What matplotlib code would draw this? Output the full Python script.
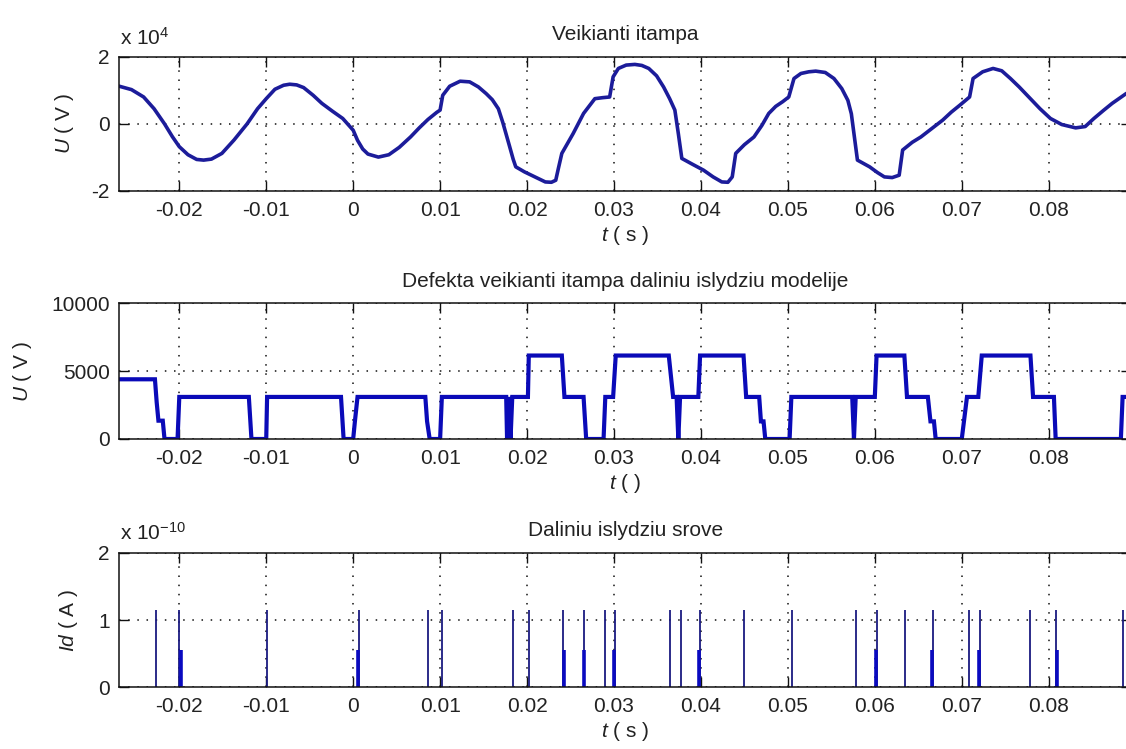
import numpy as np
import matplotlib
matplotlib.use("Agg")
import matplotlib.pyplot as plt

# ---------------- data ----------------
# Top: applied voltage (units of 1e4 V)
top_t = [-0.0269, -0.0255, -0.0241, -0.0229, -0.0217, -0.0208, -0.0200, -0.0190, -0.0180,
         -0.0172, -0.0163, -0.0151, -0.0137, -0.0122, -0.0110, -0.0100, -0.0090, -0.0080,
         -0.0073, -0.0065, -0.0057, -0.0046, -0.0036, -0.0024, -0.0012, 0.0000, 0.0005,
         0.0011, 0.0017, 0.0029, 0.0041, 0.0053, 0.0066, 0.0076, 0.0086, 0.0096, 0.0100,
         0.0103, 0.0111, 0.0123, 0.0134, 0.0144, 0.0153, 0.0160, 0.0167, 0.0172, 0.0177,
         0.0180, 0.0184, 0.0187, 0.0197, 0.0209, 0.0221, 0.0228, 0.0233, 0.0236, 0.0240,
         0.0253, 0.0265, 0.0278, 0.0287, 0.0295, 0.0299, 0.0305, 0.0314, 0.0324, 0.0332,
         0.0340, 0.0349, 0.0357, 0.0364, 0.0370, 0.0374, 0.0378, 0.0390, 0.0403, 0.0414,
         0.0424, 0.0431, 0.0436, 0.0440, 0.0450, 0.0461, 0.0470, 0.0478, 0.0486, 0.0494,
         0.0501, 0.0507, 0.0515, 0.0524, 0.0532, 0.0543, 0.0553, 0.0562, 0.0569, 0.0573,
         0.0576, 0.0580, 0.0594, 0.0603, 0.0611, 0.0620, 0.0628, 0.0632, 0.0643, 0.0653,
         0.0665, 0.0678, 0.0688, 0.0698, 0.0709, 0.0713, 0.0724, 0.0736, 0.0746, 0.0756,
         0.0766, 0.0777, 0.0790, 0.0802, 0.0815, 0.0831, 0.0842, 0.0852, 0.0863, 0.0873,
         0.0889, 0.0895]
top_u = [1.12, 1.02, 0.80, 0.45, 0.00, -0.38, -0.68, -0.92, -1.06,
         -1.08, -1.05, -0.88, -0.48, 0.00, 0.45, 0.75, 1.03, 1.15,
         1.18, 1.16, 1.08, 0.85, 0.61, 0.38, 0.16, -0.19, -0.49,
         -0.75, -0.90, -0.99, -0.92, -0.70, -0.39, -0.12, 0.13, 0.34, 0.41,
         0.85, 1.12, 1.27, 1.25, 1.10, 0.90, 0.72, 0.45, 0.05, -0.40,
         -0.68, -1.05, -1.28, -1.43, -1.58, -1.73, -1.74, -1.68, -1.33, -0.88,
         -0.29, 0.31, 0.75, 0.78, 0.80, 1.40, 1.65, 1.75, 1.77, 1.74,
         1.65, 1.43, 1.10, 0.75, 0.41, -0.29, -1.03, -1.20, -1.38, -1.58,
         -1.73, -1.74, -1.58, -0.88, -0.62, -0.39, -0.05, 0.31, 0.52, 0.66,
         0.80, 1.35, 1.50, 1.55, 1.57, 1.53, 1.35, 1.05, 0.70, 0.30,
         -0.29, -1.08, -1.28, -1.45, -1.58, -1.60, -1.53, -0.78, -0.55, -0.39,
         -0.15, 0.11, 0.35, 0.56, 0.80, 1.35, 1.55, 1.65, 1.58, 1.35,
         1.10, 0.80, 0.45, 0.16, -0.02, -0.12, -0.08, 0.16, 0.40, 0.61,
         0.90, 0.98]

# Middle: defect voltage in PD model (V), step-wise
mid_t = [-0.0269, -0.0228, -0.0226, -0.0224, -0.0219, -0.0217, -0.0202, -0.0200,
         -0.0120, -0.0117, -0.0100, -0.0099, -0.0014, -0.0011, 0.0000, 0.0002,
         0.0005, 0.0083, 0.0085, 0.0088, 0.0100, 0.0102, 0.0176, 0.0177, 0.0179,
         0.0181, 0.0183, 0.0201, 0.0202, 0.0240, 0.0243, 0.0265, 0.0268, 0.0288,
         0.0290, 0.0299, 0.0302, 0.0363, 0.0368, 0.0372, 0.0374, 0.0376, 0.0397,
         0.0399, 0.0449, 0.0452, 0.0467, 0.0469, 0.0472, 0.0474, 0.0502, 0.0504,
         0.0574, 0.0576, 0.0578, 0.0600, 0.0602, 0.0634, 0.0637, 0.0661, 0.0664,
         0.0668, 0.0670, 0.0700, 0.0706, 0.0719, 0.0723, 0.0779, 0.0782, 0.0806,
         0.0808, 0.0883, 0.0885, 0.0895]
mid_u = [4400, 4400, 2700, 1350, 1350, 0, 0, 3100,
         3100, 0, 0, 3100, 3100, 0, 0, 1300,
         3100, 3100, 1300, 0, 0, 3100, 3100, 0, 3100,
         0, 3100, 3100, 6150, 6150, 3100, 3100, 0, 0,
         3100, 3100, 6150, 6150, 3100, 3100, 0, 3100, 3100,
         6150, 6150, 3100, 3100, 1300, 1300, 0, 0, 3100,
         3100, 0, 3100, 3100, 6150, 6150, 3100, 3100, 1300,
         1300, 0, 0, 3100, 3100, 6150, 6150, 3100, 3100,
         0, 0, 3100, 3100]

# Bottom: PD currents (units of 1e-10 A)
tall_t = [-0.0227, -0.0200, -0.0099, 0.0007, 0.0086, 0.0102, 0.0184, 0.0202,
          0.0241, 0.0265, 0.0290, 0.0301, 0.0364, 0.0377, 0.0399, 0.0449,
          0.0505, 0.0578, 0.0602, 0.0635, 0.0667, 0.0708, 0.0721, 0.0779,
          0.0808, 0.0885]
tall_h = [1.15] * len(tall_t)
short_t = [-0.0198, 0.0005, 0.0242, 0.0266, 0.0300, 0.0398, 0.0601, 0.0666,
           0.0720, 0.0809]
short_h = [0.55] * len(short_t)

xticks = [-0.02, -0.01, 0.0, 0.01, 0.02, 0.03, 0.04, 0.05, 0.06, 0.07, 0.08]
xticklabels = ['-0.02', '-0.01', '0', '0.01', '0.02', '0.03', '0.04', '0.05',
               '0.06', '0.07', '0.08']
top_yticks = [-2, 0, 2]
top_yticklabels = ['-2', '0', '2']
mid_yticks = [0, 5000, 10000]
mid_yticklabels = ['0', '5000', '10000']
bot_yticks = [0, 1, 2]
bot_yticklabels = ['0', '1', '2']

titles = ['Veikianti itampa',
          'Defekta veikianti itampa daliniu islydziu modelije',
          'Daliniu islydziu srove']

# ---------------- style ----------------
plt.rcParams['font.family'] = ['Liberation Sans', 'DejaVu Sans']
plt.rcParams['mathtext.fontset'] = 'custom'
plt.rcParams['mathtext.rm'] = 'Liberation Sans'
plt.rcParams['mathtext.it'] = 'Liberation Sans:italic'
plt.rcParams['mathtext.default'] = 'it'
FS = 15
TXT = '#222222'

W, H = 1126, 749
fig = plt.figure(figsize=(W / 100, H / 100), dpi=100)
fig.patch.set_facecolor('white')

left_px, right_px = 119.3, 1131.3
XLIM = (-0.0269, 0.0895)
boxes = [(56.7, 191.0), (303.3, 439.0), (553.0, 687.3)]
axes = []
for (t_px, b_px) in boxes:
    ax = fig.add_axes([left_px / W, 1 - b_px / H, (right_px - left_px) / W, (b_px - t_px) / H])
    axes.append(ax)

def style(ax, yticks, yticklabels, ylim, title, xlabel, ylabel, ylab_x):
    ax.set_xlim(*XLIM)
    ax.set_ylim(*ylim)
    ax.set_xticks(xticks)
    ax.set_xticklabels(xticklabels, fontsize=FS, color=TXT)
    ax.set_yticks(yticks)
    ax.set_yticklabels(yticklabels, fontsize=FS, color=TXT)
    ax.tick_params(direction='in', length=7, width=1.0, top=True, right=True,
                   pad=7, colors='#111111', labelcolor=TXT)
    ax.grid(True, linestyle=(0, (1, 5)), color='#111111', linewidth=1.1)
    ax.set_axisbelow(True)
    for s in ax.spines.values():
        s.set_linewidth(1.1)
        s.set_color('#111111')
    ax.set_title(title, fontsize=FS, color=TXT, pad=12)
    ax.set_xlabel(xlabel, fontsize=FS, color=TXT, labelpad=3)
    ax.set_ylabel(ylabel, fontsize=FS, color=TXT)
    ax.yaxis.set_label_coords(ylab_x, 0.5)

ax1, ax2, ax3 = axes
ax1.plot(top_t, top_u, color='#1c1c9a', linewidth=2.6, solid_joinstyle='round')
style(ax1, top_yticks, top_yticklabels, (-2, 2), titles[0],
      r'$t$ ( s )', r'$U$ ( V )', -0.0428)
ax1.annotate(r'x 10$^{\mathrm{4}}$', xy=(0, 1), xycoords='axes fraction',
             xytext=(0.5, 8.5), textcoords='offset points', fontsize=FS,
             color=TXT, ha='left', va='baseline')

ax2.plot(mid_t, mid_u, color='#0a0ab8', linewidth=3.0, solid_joinstyle='miter')
style(ax2, mid_yticks, mid_yticklabels, (0, 10000), titles[1],
      r'$t$ ( )', r'$U$ ( V )', -0.0843)

ax3.vlines(tall_t, 0, tall_h, color='#1a1a80', linewidth=1.3)
ax3.vlines(short_t, 0, short_h, color='#0a0ac0', linewidth=2.6)
style(ax3, bot_yticks, bot_yticklabels, (0, 2), titles[2],
      r'$t$ ( s )', r'$Id$ ( A )', -0.0388)
ax3.annotate(r'x 10$^{\mathrm{-10}}$', xy=(0, 1), xycoords='axes fraction',
             xytext=(0.5, 9.5), textcoords='offset points', fontsize=FS,
             color=TXT, ha='left', va='baseline')

fig.savefig('out.png', dpi=100, facecolor='white')
